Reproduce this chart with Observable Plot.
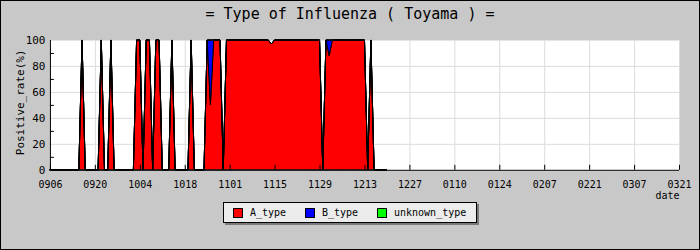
<!DOCTYPE html>
<html><head><meta charset="utf-8">
<script src="https://cdn.jsdelivr.net/npm/d3@7"></script>
<script src="https://cdn.jsdelivr.net/npm/@observablehq/plot@0.6"></script>
<style>
html,body{margin:0;padding:0;background:#c8c8c8;}
#wrap{position:relative;width:698px;height:248px;border:1px solid #000;background:#c8c8c8;overflow:hidden;font-family:"DejaVu Sans Mono",monospace;color:#000;}
#title{position:absolute;left:0;top:4px;width:698px;text-align:center;font-size:15px;line-height:18px;white-space:pre;}
#chart{position:absolute;left:-1px;top:29px;}
#legend{position:absolute;left:222px;top:201px;width:252px;height:19px;background:#ececec;border:1px solid #000;box-shadow:2px 2px 0 #7a7a7a;font-size:10px;}
.item{position:absolute;top:0;height:19px;display:flex;align-items:center;white-space:pre;}
.sw{width:8px;height:8px;border:1px solid #000;margin-right:7px;}
</style>
</head><body>
<div id="wrap">
  <div id="title">= Type of Influenza ( Toyama ) =</div>
  <div id="chart"></div>
  <div id="legend"></div>
</div>
<script>
// ---- data ----
const types = ["A_type", "B_type", "unknown_type"];
const colors = ["#ff0000", "#0000ff", "#00ff00"];

const dates = [
  "0906","0907","0908","0909","0910","0911","0912","0913","0914","0915",
  "0916","0917","0918","0919","0920","0921","0922","0923","0924","0925",
  "0926","0927","0928","0929","0930","1001","1002","1003","1004","1005",
  "1006","1007","1008","1009","1010","1011","1012","1013","1014","1015",
  "1016","1017","1018","1019","1020","1021","1022","1023","1024","1025",
  "1026","1027","1028","1029","1030","1031","1101","1102","1103","1104",
  "1105","1106","1107","1108","1109","1110","1111","1112","1113","1114",
  "1115","1116","1117","1118","1119","1120","1121","1122","1123","1124",
  "1125","1126","1127","1128","1129","1130","1201","1202","1203","1204",
  "1205","1206","1207","1208","1209","1210","1211","1212","1213","1214",
  "1215","1216","1217","1218","1219","1220"
];
const aType = [
  0,0,0,0,0,0,0,0,0,0,
  100,0,0,0,0,0,100,0,0,100,
  0,0,0,0,0,0,0,100,100,0,
  100,100,0,100,100,0,0,0,100,0,
  0,0,0,0,100,0,0,0,0,100,
  50,100,100,100,0,100,100,100,100,100,
  100,100,100,100,100,100,100,100,100,97,
  100,100,100,100,100,100,100,100,100,100,
  100,100,100,100,100,0,100,88,100,100,
  100,100,100,100,100,100,100,100,100,0,
  100,0,0,0,0,0
];
const bType = [
  0,0,0,0,0,0,0,0,0,0,
  0,0,0,0,0,0,0,0,0,0,
  0,0,0,0,0,0,0,0,0,0,
  0,0,0,0,0,0,0,0,0,0,
  0,0,0,0,0,0,0,0,0,0,
  50,0,0,0,0,0,0,0,0,0,
  0,0,0,0,0,0,0,0,0,0,
  0,0,0,0,0,0,0,0,0,0,
  0,0,0,0,0,0,0,12,0,0,
  0,0,0,0,0,0,0,0,0,0,
  0,0,0,0,0,0
];
const unknownType = [
  0,0,0,0,0,0,0,0,0,0,
  0,0,0,0,0,0,0,0,0,0,
  0,0,0,0,0,0,0,0,0,0,
  0,0,0,0,0,0,0,0,0,0,
  0,0,0,0,0,0,0,0,0,0,
  0,0,0,0,0,0,0,0,0,0,
  0,0,0,0,0,0,0,0,0,0,
  0,0,0,0,0,0,0,0,0,0,
  0,0,0,0,0,0,0,0,0,0,
  0,0,0,0,0,0,0,0,0,0,
  0,0,0,0,0,0
];
const xTickLabels = ["0906","0920","1004","1018","1101","1115","1129","1213","1227","0110","0124","0207","0221","0307","0321"];
const yTicks = [0, 20, 40, 60, 80, 100];
const yGrid = [20, 40, 60, 80];
const yMinor = [10, 30, 50, 70, 90];

// ---- build ----
function parseMMDD(s) {
  const m = +s.slice(0, 2), d = +s.slice(2);
  const y = m >= 9 ? 2009 : 2010;
  return new Date(Date.UTC(y, m - 1, d));
}
const series = [aType, bType, unknownType];
const rows = [];
types.forEach((t, k) => {
  dates.forEach((s, i) => rows.push({date: parseMMDD(s), type: t, value: series[k][i]}));
});
const tickDates = xTickLabels.map(parseMMDD);

const chart = Plot.plot({
  width: 700, height: 172,
  marginLeft: 50, marginRight: 20, marginTop: 10, marginBottom: 32,
  style: {background: "transparent", fontFamily: "'DejaVu Sans Mono', monospace", fontSize: "10px", color: "black", overflow: "visible"},
  x: {type: "utc", domain: [tickDates[0], tickDates[tickDates.length - 1]]},
  y: {domain: [0, 100]},
  color: {domain: types, range: colors},
  marks: [
    Plot.frame({fill: "white", stroke: "none"}),
    Plot.gridY(yGrid, {stroke: "#dcdcdc", strokeOpacity: 1}),
    Plot.gridX(tickDates, {stroke: "#dcdcdc", strokeOpacity: 1}),
    Plot.areaY(rows, {x: "date", y: "value", z: "type", fill: "type", order: types, stroke: "black", strokeWidth: 1, curve: "linear"}),
    Plot.ruleY([0], {stroke: "black"}),
    Plot.ruleX([tickDates[0]], {stroke: "black"}),
    Plot.tickX(tickDates, {stroke: "black", insetTop: 125}),
    Plot.tickY(yMinor, {stroke: "black", insetRight: 626}),
    Plot.axisY(yTicks, {tickSize: 0, tickPadding: 5, fontSize: 11, label: null}),
    Plot.axisX(tickDates, {tickSize: 0, tickPadding: 11, tickFormat: d3.utcFormat("%m%d"), fontSize: 10, label: null}),
    Plot.text(["Positive_rate(%)"], {frameAnchor: "left", textAnchor: "middle", rotate: -90, dx: -30, dy: -3, fontSize: 11}),
    Plot.text(["date"], {frameAnchor: "bottom-right", textAnchor: "end", dy: 29, fontSize: 10})
  ]
});
document.getElementById("chart").appendChild(chart);

// legend
const legend = document.getElementById("legend");
types.forEach((t, i) => {
  const item = document.createElement("div");
  item.className = "item";
  item.style.left = (9 + i * 72) + "px";
  const sw = document.createElement("span");
  sw.className = "sw";
  sw.style.background = colors[i];
  item.appendChild(sw);
  item.appendChild(document.createTextNode(t));
  legend.appendChild(item);
});
</script>
</body></html>
